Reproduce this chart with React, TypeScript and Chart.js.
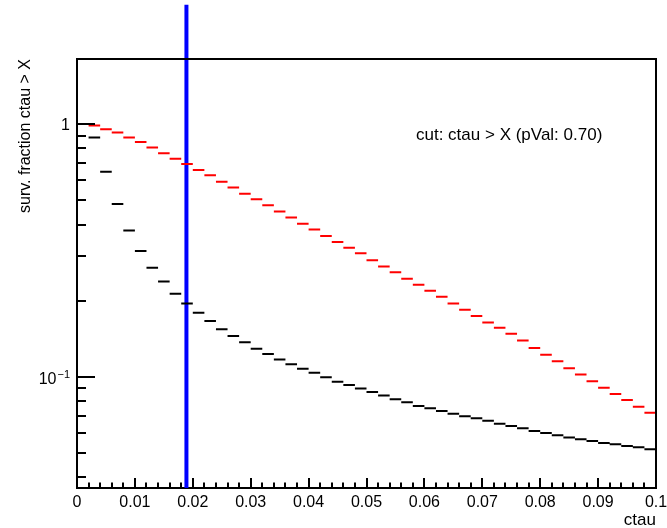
import React, { useEffect, useRef } from "react";
import { Chart, registerables } from "chart.js";

Chart.register(...registerables);

// ---- data ----
const BIN_WIDTH = 0.002;

const RED_VALUES = [
  1.0, 0.985, 0.953, 0.924, 0.883, 0.849, 0.806, 0.766, 0.729, 0.695,
  0.658, 0.627, 0.591, 0.56, 0.53, 0.503, 0.477, 0.45, 0.426, 0.403,
  0.382, 0.36, 0.341, 0.324, 0.308, 0.289, 0.273, 0.259, 0.244, 0.231,
  0.219, 0.207, 0.195, 0.184, 0.174, 0.164, 0.156, 0.148, 0.139, 0.13,
  0.122, 0.115, 0.108, 0.102, 0.0959, 0.0905, 0.0855, 0.0809, 0.0761, 0.072,
];

const BLACK_VALUES = [
  1.0, 0.883, 0.647, 0.482, 0.379, 0.314, 0.27, 0.238, 0.213, 0.195,
  0.179, 0.166, 0.154, 0.145, 0.137, 0.129, 0.123, 0.117, 0.112, 0.1075,
  0.1037, 0.0995, 0.0955, 0.0927, 0.0897, 0.087, 0.0843, 0.0814, 0.0792, 0.0766,
  0.075, 0.0731, 0.0714, 0.0697, 0.0684, 0.067, 0.0652, 0.0638, 0.0625, 0.061,
  0.0598, 0.0587, 0.0575, 0.0565, 0.0557, 0.0547, 0.054, 0.0532, 0.0526, 0.0516,
];

const X_TICK_VALUES = [0, 0.01, 0.02, 0.03, 0.04, 0.05, 0.06, 0.07, 0.08, 0.09, 0.1];
const X_TICK_LABELS = ["0", "0.01", "0.02", "0.03", "0.04", "0.05", "0.06", "0.07", "0.08", "0.09", "0.1"];
const X_MINOR_STEP = 0.002;
const Y_MAJOR_TICKS = [0.1, 1];
const Y_MINOR_TICKS = [0.04, 0.05, 0.06, 0.07, 0.08, 0.09, 0.2, 0.3, 0.4, 0.5, 0.6, 0.7, 0.8, 0.9];

const CUT_VALUE = 0.0189;
const CUT_TOP = 2.96;
const ANNOTATION = "cut: ctau > X (pVal: 0.70)";
const X_TITLE = "ctau";
const Y_TITLE = "surv. fraction ctau > X";

const X_MIN = 0;
const X_MAX = 0.1;
const Y_MIN = 0.03627;
const Y_MAX = 1.807;

const FONT = "'Liberation Sans', Arial, Helvetica, sans-serif";

function histSegments(values: number[]) {
  const pts: { x: number; y: number | null }[] = [];
  values.forEach((v, i) => {
    const lo = i * BIN_WIDTH;
    const hi = (i + 1) * BIN_WIDTH;
    pts.push({ x: lo, y: v }, { x: hi, y: v }, { x: hi, y: null });
  });
  return pts;
}

const rootAxesPlugin = {
  id: "rootAxes",
  afterDraw(chart: any) {
    const ctx = chart.ctx as CanvasRenderingContext2D;
    const area = chart.chartArea;
    const xs = chart.scales.x;
    const ys = chart.scales.y;
    ctx.save();
    ctx.strokeStyle = "#000";
    ctx.lineWidth = 2;
    // frame top/right
    ctx.beginPath();
    ctx.moveTo(area.left - 1, area.top);
    ctx.lineTo(area.right, area.top);
    ctx.lineTo(area.right, area.bottom + 1);
    ctx.stroke();

    // x ticks (inward)
    const nMinor = Math.round((X_MAX - X_MIN) / X_MINOR_STEP);
    ctx.beginPath();
    for (let i = 0; i <= nMinor; i++) {
      const v = X_MIN + i * X_MINOR_STEP;
      const px = Math.round(xs.getPixelForValue(v));
      const len = i % 5 === 0 ? 10 : 5.5;
      ctx.moveTo(px, area.bottom);
      ctx.lineTo(px, area.bottom - len);
    }
    ctx.stroke();

    // y ticks (inward)
    ctx.beginPath();
    Y_MAJOR_TICKS.forEach((v) => {
      const py = Math.round(ys.getPixelForValue(v));
      ctx.moveTo(area.left, py);
      ctx.lineTo(area.left + 18, py);
    });
    Y_MINOR_TICKS.forEach((v) => {
      const py = Math.round(ys.getPixelForValue(v));
      ctx.moveTo(area.left, py);
      ctx.lineTo(area.left + 9, py);
    });
    ctx.stroke();

    // x tick labels
    ctx.fillStyle = "#000";
    ctx.font = `16px ${FONT}`;
    ctx.textAlign = "center";
    ctx.textBaseline = "alphabetic";
    X_TICK_VALUES.forEach((v, i) => {
      const px = xs.getPixelForValue(v);
      ctx.fillText(X_TICK_LABELS[i], px, area.bottom + 19);
    });

    // y tick labels
    const p1 = ys.getPixelForValue(1);
    ctx.textAlign = "right";
    ctx.fillText("1", area.left - 7, p1 + 6);
    const p01 = ys.getPixelForValue(0.1);
    ctx.font = `11px ${FONT}`;
    ctx.textAlign = "right";
    ctx.fillText("\u22121", area.left - 7, p01 + 1);
    const supW = ctx.measureText("\u22121").width;
    ctx.font = `16px ${FONT}`;
    ctx.fillText("10", area.left - 7 - supW - 1, p01 + 7);

    // axis titles
    ctx.font = `17px ${FONT}`;
    ctx.textAlign = "right";
    ctx.fillText(X_TITLE, area.right, area.bottom + 37);

    ctx.save();
    ctx.font = `16px ${FONT}`;
    ctx.translate(30, area.top);
    ctx.rotate(-Math.PI / 2);
    ctx.textAlign = "right";
    ctx.textBaseline = "alphabetic";
    ctx.fillText(Y_TITLE, 0, 0);
    ctx.restore();

    // annotation
    ctx.font = `17px ${FONT}`;
    ctx.textAlign = "left";
    ctx.fillText(ANNOTATION, 416, 139.5);
    ctx.restore();
  },
};

export default function App() {
  const canvasRef = useRef<HTMLCanvasElement | null>(null);

  useEffect(() => {
    const canvas = canvasRef.current;
    if (!canvas) return;
    const chart = new Chart(canvas, {
      type: "line",
      data: {
        datasets: [
          {
            label: "all",
            data: histSegments(BLACK_VALUES) as any,
            borderColor: "#000000",
            borderWidth: 2,
            pointRadius: 0,
            spanGaps: false,
            order: 0,
          },
          {
            label: "cut",
            data: histSegments(RED_VALUES) as any,
            borderColor: "#ff0000",
            borderWidth: 2,
            pointRadius: 0,
            spanGaps: false,
            order: 1,
          },
          {
            label: "cut value",
            data: [
              { x: CUT_VALUE, y: Y_MIN },
              { x: CUT_VALUE, y: CUT_TOP },
            ],
            borderColor: "#0000ff",
            borderWidth: 4,
            pointRadius: 0,
            clip: false as any,
            order: 2,
          },
        ],
      },
      options: {
        animation: false,
        responsive: false,
        layout: { padding: { top: 59, right: 11, left: 0, bottom: 0 } },
        plugins: { legend: { display: false }, tooltip: { enabled: false } },
        elements: { line: { tension: 0, borderCapStyle: "butt" } },
        scales: {
          x: {
            type: "linear",
            min: X_MIN,
            max: X_MAX,
            grid: { display: false },
            ticks: { display: false },
            border: { display: true, color: "#000", width: 2 },
            afterFit: (s: any) => {
              s.height = 40;
            },
          },
          y: {
            type: "logarithmic",
            min: Y_MIN,
            max: Y_MAX,
            grid: { display: false },
            ticks: { display: false },
            border: { display: true, color: "#000", width: 2 },
            afterFit: (s: any) => {
              s.width = 77;
            },
          },
        },
      },
      plugins: [rootAxesPlugin],
    });
    return () => chart.destroy();
  }, []);

  return (
    <div style={{ position: "fixed", left: 0, top: 0, width: 667, height: 528, background: "#fff" }}>
      <canvas ref={canvasRef} width={667} height={528} style={{ display: "block" }} />
    </div>
  );
}
